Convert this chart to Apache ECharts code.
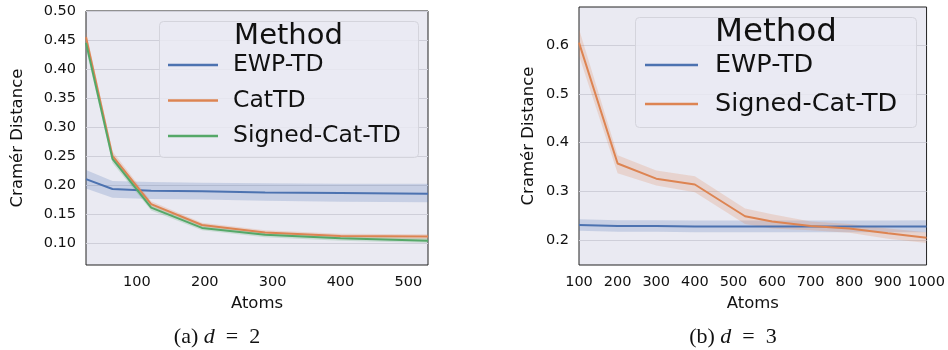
<!DOCTYPE html>
<html>
<head>
<meta charset="utf-8">
<script src="https://cdn.jsdelivr.net/npm/echarts@6/dist/echarts.min.js"></script>
<style>
html,body{margin:0;padding:0;background:#fff;}
#c{width:948px;height:350px;}
</style>
</head>
<body>
<div id="c"></div>
<script>
// ---------- Data: panel (a) d = 2 ----------
var atomsA = [25, 64, 121, 196, 289, 400, 529];
var ewpA_mean = [0.210, 0.193, 0.190, 0.189, 0.187, 0.186, 0.185];
var ewpA_low  = [0.194, 0.178, 0.176, 0.175, 0.173, 0.171, 0.170];
var ewpA_high = [0.226, 0.207, 0.205, 0.204, 0.203, 0.202, 0.202];
var catA_mean = [0.455, 0.250, 0.167, 0.131, 0.118, 0.112, 0.111];
var catA_low  = [0.445, 0.243, 0.162, 0.127, 0.114, 0.108, 0.106];
var catA_high = [0.465, 0.258, 0.172, 0.135, 0.122, 0.116, 0.115];
var sgnA_mean = [0.445, 0.245, 0.161, 0.126, 0.114, 0.108, 0.104];
var sgnA_low  = [0.435, 0.238, 0.156, 0.122, 0.110, 0.104, 0.100];
var sgnA_high = [0.455, 0.252, 0.166, 0.130, 0.118, 0.112, 0.108];
var yTicksA = [0.10, 0.15, 0.20, 0.25, 0.30, 0.35, 0.40, 0.45, 0.50];
var xTicksA = [100, 200, 300, 400, 500];

// ---------- Data: panel (b) d = 3 ----------
var atomsB = [100, 200, 300, 400, 530, 600, 700, 800, 900, 1000];
var ewpB_mean = [0.231, 0.229, 0.229, 0.228, 0.228, 0.228, 0.228, 0.228, 0.228, 0.228];
var ewpB_low  = [0.219, 0.217, 0.217, 0.216, 0.216, 0.216, 0.216, 0.216, 0.216, 0.216];
var ewpB_high = [0.243, 0.241, 0.241, 0.240, 0.240, 0.240, 0.240, 0.240, 0.240, 0.241];
var sgnB_mean = [0.605, 0.357, 0.326, 0.314, 0.249, 0.238, 0.229, 0.224, 0.214, 0.205];
var sgnB_low  = [0.578, 0.337, 0.312, 0.298, 0.233, 0.224, 0.220, 0.215, 0.203, 0.194];
var sgnB_high = [0.633, 0.374, 0.343, 0.331, 0.265, 0.253, 0.238, 0.233, 0.224, 0.216];
var yTicksB = [0.2, 0.3, 0.4, 0.5, 0.6];
var xTicksB = [100, 200, 300, 400, 500, 600, 700, 800, 900, 1000];

var legendA = ['EWP-TD', 'CatTD', 'Signed-Cat-TD'];
var legendB = ['EWP-TD', 'Signed-Cat-TD'];

var BLUE = '#4C72B0', ORANGE = '#DD8452', GREEN = '#55A868';
var FONT = 'DejaVu Sans';

function pairs(xs, ys) { return xs.map(function (x, i) { return [x, ys[i]]; }); }

// confidence band drawn as one polygon through the axis scales
function band(xs, lo, hi, color, gi) {
  var data = xs.map(function (x, i) { return [x, lo[i], hi[i]]; });
  return {
    type: 'custom', xAxisIndex: gi, yAxisIndex: gi, silent: true, z: 1,
    data: data, encode: { x: 0, y: [1, 2] },
    renderItem: function (params, api) {
      if (params.dataIndex !== 0) return null;
      var top = [], bot = [];
      for (var i = 0; i < data.length; i++) {
        top.push(api.coord([data[i][0], data[i][2]]));
        bot.push(api.coord([data[i][0], data[i][1]]));
      }
      var pts = top.concat(bot.reverse());
      var cs = params.coordSys;
      return {
        type: 'polygon', shape: { points: pts },
        clipPath: { type: 'rect', shape: { x: cs.x, y: cs.y, width: cs.width, height: cs.height } },
        style: { fill: color, opacity: 0.22 }
      };
    }
  };
}
function line(name, xs, ys, color, gi) {
  return { type: 'line', name: name, xAxisIndex: gi, yAxisIndex: gi, data: pairs(xs, ys),
    symbol: 'none', lineStyle: { color: color, width: 2 }, itemStyle: { color: color }, z: 3 };
}

var axisLabelStyle = { color: '#111', fontFamily: FONT, fontSize: 14.5 };
var nameStyle = { color: '#111', fontFamily: FONT, fontSize: 16.5 };

var series = [
  band(atomsA, ewpA_low, ewpA_high, BLUE, 0),
  band(atomsA, catA_low, catA_high, ORANGE, 0),
  band(atomsA, sgnA_low, sgnA_high, GREEN, 0),
  line('a:EWP-TD', atomsA, ewpA_mean, BLUE, 0),
  line('a:CatTD', atomsA, catA_mean, ORANGE, 0),
  line('a:Signed-Cat-TD', atomsA, sgnA_mean, GREEN, 0),
  band(atomsB, ewpB_low, ewpB_high, BLUE, 1),
  band(atomsB, sgnB_low, sgnB_high, ORANGE, 1),
  line('b:EWP-TD', atomsB, ewpB_mean, BLUE, 1),
  line('b:Signed-Cat-TD', atomsB, sgnB_mean, ORANGE, 1)
];

function yAxis(gi, min, max, ticks, digits, gap) {
  return {
    type: 'value', gridIndex: gi, min: min, max: max,
    name: 'Cramér Distance', nameLocation: 'middle', nameGap: gap, nameTextStyle: nameStyle,
    axisLine: { show: false },
    axisTick: { show: false, customValues: ticks },
    axisLabel: Object.assign({ customValues: ticks, margin: 10,
      formatter: function (v) { return v.toFixed(digits); } }, axisLabelStyle),
    splitLine: { show: true, lineStyle: { color: '#cfcfd9', width: 1 } }
  };
}
function xAxis(gi, min, max, ticks) {
  return {
    type: 'value', gridIndex: gi, min: min, max: max,
    name: 'Atoms', nameLocation: 'middle', nameGap: 27, nameTextStyle: nameStyle,
    axisLine: { show: false },
    axisTick: { show: false, customValues: ticks },
    axisLabel: Object.assign({ customValues: ticks, margin: 10,
      formatter: function (v) { return String(v); } }, axisLabelStyle),
    splitLine: { show: false }
  };
}

function legendBox(x, y, w, h) {
  return { type: 'rect', left: x, top: y, shape: { width: w, height: h, r: 4 }, z: 10,
    style: { fill: 'rgba(234,234,242,0.8)', stroke: '#d4d4dc', lineWidth: 1 } };
}
function legendTitle(cx, cy, size) {
  return { type: 'text', x: cx, y: cy, z: 11,
    style: { text: 'Method', fontFamily: FONT, fontSize: size, fill: '#111', align: 'center', verticalAlign: 'middle' } };
}
function caption(cx, cy, letter, dval) {
  return { type: 'text', x: cx, y: cy, z: 11,
    style: { text: '{n|(' + letter + ') }{i|d}{n|  =  ' + dval + '}', align: 'center', verticalAlign: 'middle',
      rich: { n: { fontFamily: 'Liberation Serif', fontSize: 22, fill: '#111' },
              i: { fontFamily: 'Liberation Serif', fontStyle: 'italic', fontSize: 22, fill: '#111' } } } };
}
function stripPrefix(name) { return name.replace(/^[ab]:/, ''); }

var option = {
  animation: false,
  backgroundColor: '#ffffff',
  grid: [
    { left: 86, top: 11, width: 342, height: 254, show: true, backgroundColor: '#EAEAF2', borderColor: '#222', borderWidth: 1 },
    { left: 579, top: 7, width: 348, height: 258, show: true, backgroundColor: '#EAEAF2', borderColor: '#222', borderWidth: 1 }
  ],
  xAxis: [xAxis(0, 25, 529, xTicksA), xAxis(1, 100, 1000, xTicksB)],
  yAxis: [yAxis(0, 0.062, 0.50, yTicksA, 2, 60), yAxis(1, 0.149, 0.678, yTicksB, 1, 42)],
  legend: [
    { data: legendA.map(function (n) { return 'a:' + n; }), formatter: stripPrefix,
      orient: 'vertical', left: 168, top: 53, icon: 'rect', itemWidth: 50, itemHeight: 2.5,
      itemGap: 11.5, z: 12, textStyle: { fontFamily: FONT, fontSize: 23.5, color: '#111', lineHeight: 24, padding: [0, 0, 0, 10] },
      selectedMode: false, padding: 0 },
    { data: legendB.map(function (n) { return 'b:' + n; }), formatter: stripPrefix,
      orient: 'vertical', left: 645, top: 52, icon: 'rect', itemWidth: 53, itemHeight: 2.5,
      itemGap: 13, z: 12, textStyle: { fontFamily: FONT, fontSize: 25.5, color: '#111', lineHeight: 26, padding: [0, 0, 0, 12] },
      selectedMode: false, padding: 0 }
  ],
  graphic: [
    legendBox(159, 21, 259, 136), legendTitle(288.5, 36, 29),
    legendBox(635, 17, 281, 110), legendTitle(776, 33, 32.5),
    caption(217, 337, 'a', 2), caption(733, 337, 'b', 3)
  ],
  series: series
};

var chart = echarts.init(document.getElementById('c'), null, { renderer: 'canvas' });
chart.setOption(option);
</script>
</body>
</html>
